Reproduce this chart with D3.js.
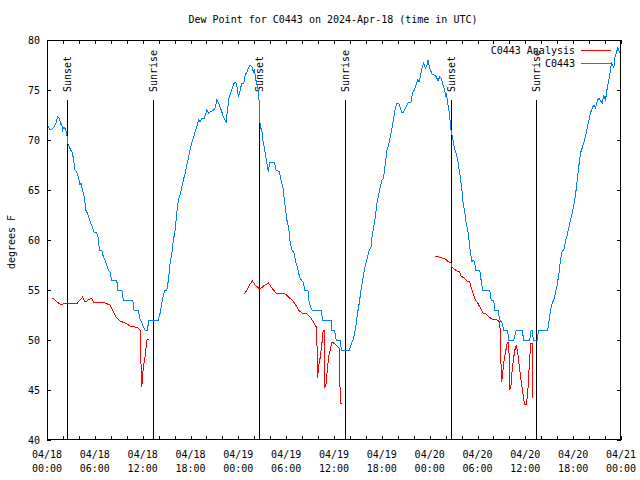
<!DOCTYPE html>
<html><head><meta charset="utf-8">
<script src="https://cdn.jsdelivr.net/npm/d3@7"></script>
<style>
body{margin:0;background:#fff;}
svg text{font-family:"DejaVu Sans Mono",monospace;font-size:10px;fill:#000;}
</style></head>
<body><svg id="c" width="640" height="480"></svg>
<script>
// hours since 2024-04-18 00:00 UTC
const obsHours = [0.16,0.38,0.79,1.09,1.34,1.51,1.63,1.76,1.80,1.97,2.13,2.30,2.47,2.60,2.80,2.98,3.18,3.30,3.52,3.73,3.93,4.14,4.27,4.43,4.68,4.86,5.06,5.27,5.49,5.69,5.90,6.24,6.44,6.57,6.87,7.07,7.28,7.50,7.70,7.91,8.12,8.75,8.88,9.38,9.58,10.76,10.92,11.46,11.68,11.89,12.09,12.30,12.59,12.77,13.97,14.19,14.40,14.60,14.81,15.03,15.23,15.44,15.66,15.86,16.07,16.28,16.48,16.70,16.91,17.11,17.33,17.54,17.74,17.95,18.17,18.37,18.58,18.79,19.00,19.21,19.42,19.75,20.05,20.25,20.46,20.88,21.09,21.31,21.51,21.72,21.93,22.13,22.35,22.47,22.64,22.85,23.10,23.26,23.48,23.69,23.85,24.02,24.23,24.44,24.70,24.86,25.07,25.27,25.49,25.70,25.90,26.03,26.20,26.40,26.53,26.65,26.74,26.95,27.03,27.24,27.45,27.66,27.78,27.91,28.54,28.71,29.17,29.34,29.59,29.88,30.09,30.30,30.51,30.72,31.01,31.22,31.43,31.68,31.89,32.18,32.30,32.73,32.89,33.23,34.40,34.56,35.62,35.74,36.07,36.28,36.82,36.91,37.95,38.13,38.38,38.54,38.76,38.96,39.17,39.39,39.59,39.80,40.01,40.21,40.43,40.64,40.77,40.97,41.18,41.39,41.59,41.81,42.02,42.22,42.44,42.65,42.85,43.06,43.28,43.48,43.69,43.91,44.11,44.32,44.53,44.73,44.95,45.16,45.36,45.66,45.86,46.08,46.29,46.49,46.67,46.83,47.04,47.25,47.46,47.67,47.80,47.92,48.09,48.30,48.59,48.84,49.05,49.25,49.47,49.68,49.88,50.01,50.09,50.26,50.47,50.68,50.88,51.10,51.31,51.51,51.64,51.85,51.98,52.07,52.19,52.36,52.48,52.61,52.77,52.90,53.02,53.20,53.32,53.45,53.65,53.74,54.28,54.45,54.65,55.53,55.71,56.03,56.16,56.58,56.79,57.09,57.29,57.79,57.88,58.54,58.85,59.60,59.80,60.55,60.73,60.93,60.98,61.48,61.68,62.81,62.94,63.15,63.37,63.57,63.78,63.99,64.19,64.41,64.62,64.82,65.04,65.25,65.45,65.66,65.88,66.08,66.29,66.50,66.71,66.92,67.13,67.33,67.55,67.76,67.96,68.17,68.39,68.59,68.80,69.01,69.22,69.43,69.64,69.84,70.06,70.27,70.47,70.68,70.81,70.97,71.10,71.23,71.40,71.60,71.73,71.85];
const obsValues = [71.4,71.0,71.2,71.6,72.3,72.2,71.9,71.5,71.7,71.0,71.3,71.1,70.7,69.7,69.3,69.0,68.7,68.2,67.0,66.8,66.3,65.5,65.7,65.0,64.3,63.0,62.7,62.2,61.7,61.3,60.8,60.7,60.2,59.0,59.0,58.3,58.0,57.5,57.0,56.8,56.0,56.0,55.0,55.0,54.0,54.0,53.0,53.0,52.0,51.8,51.3,51.0,51.0,52.0,52.0,52.7,53.7,54.5,55.0,55.0,56.0,57.7,58.7,60.0,61.0,62.7,64.0,64.5,65.3,66.0,66.7,67.5,68.2,69.0,69.8,70.2,70.8,71.3,72.0,71.8,72.2,72.2,73.0,72.7,72.8,73.0,73.2,74.0,73.7,73.3,72.8,72.3,72.0,71.8,73.0,74.3,74.8,75.3,75.7,75.8,75.2,74.3,75.0,75.7,75.7,76.5,76.8,77.2,77.5,77.3,76.8,77.0,76.0,75.3,75.0,73.2,71.3,71.0,70.2,69.3,68.3,67.3,66.8,67.8,67.8,67.0,66.8,66.0,65.3,63.3,62.0,61.3,59.7,59.0,58.7,57.7,57.2,56.3,56.0,55.7,55.0,55.0,53.7,53.0,53.0,52.0,52.0,51.0,51.0,50.0,50.0,49.0,49.0,49.5,50.0,50.5,51.5,52.7,53.7,55.0,56.0,57.0,57.7,58.3,59.0,59.3,60.3,61.3,62.3,63.7,64.5,65.3,66.0,66.2,67.7,69.0,69.5,70.3,71.2,72.2,73.2,73.7,73.7,73.2,72.7,72.8,73.2,73.5,73.8,73.8,74.7,75.0,75.5,76.0,75.8,76.3,77.2,77.7,77.2,77.5,78.0,77.5,77.0,76.6,76.5,76.3,75.9,76.3,76.2,75.5,75.0,74.5,74.7,73.7,72.7,71.0,70.2,69.2,68.7,68.0,67.3,66.3,65.3,64.8,63.7,63.0,62.3,61.5,61.0,60.3,59.3,58.3,57.8,58.0,57.8,57.0,57.0,56.0,55.0,55.0,54.0,54.0,53.0,53.0,52.0,51.7,51.0,51.0,50.0,50.0,51.0,51.0,50.0,50.0,51.0,51.0,50.0,50.0,51.0,51.0,51.7,52.9,53.7,54.0,54.7,55.5,56.5,58.0,58.9,59.0,59.9,60.5,61.2,62.0,62.7,63.5,64.5,65.9,67.4,68.7,69.2,69.7,70.4,71.2,71.9,72.7,73.2,73.5,73.2,73.9,74.2,73.9,73.7,74.4,74.0,75.2,76.0,77.0,77.7,77.5,77.2,78.2,78.7,79.2,78.9,78.7];

// Analysis: null marks a gap
const anaHours = [0.59,0.79,1.22,1.63,2.05,2.47,3.80,4.14,4.48,4.77,5.19,5.61,5.81,6.87,7.28,7.91,8.32,8.75,9.17,9.79,10.21,10.42,11.05,11.46,11.68,11.76,11.89,11.97,12.09,12.30,12.52,12.84,
  18.0,
  24.77,25.07,25.49,25.78,26.11,26.53,26.74,27.16,27.78,28.21,28.71,29.25,29.88,30.30,30.72,31.14,31.55,31.98,32.61,33.02,33.43,33.77,33.90,33.94,34.06,34.28,34.49,34.65,34.78,34.82,34.99,35.12,35.32,35.53,35.74,35.95,36.37,36.66,36.70,36.82,37.00,
  42.0,
  48.71,49.13,49.55,49.97,50.38,50.68,50.81,51.01,51.44,51.77,51.94,52.27,52.69,53.02,53.20,53.45,53.74,54.02,54.36,54.70,54.99,55.41,55.83,56.46,56.79,56.87,56.96,57.04,57.13,57.29,57.50,57.72,57.92,58.01,58.05,58.18,58.35,58.55,58.76,58.89,59.05,59.30,59.51,59.72,59.89,60.14,60.30,60.48,60.68,60.89,60.93];
const anaValues = [54.2,54.2,53.8,53.6,53.6,53.7,53.7,54.0,54.3,53.8,54.0,54.2,53.8,53.8,53.7,53.5,52.8,52.2,51.9,51.7,51.5,51.4,51.3,51.2,51.0,48.3,45.3,46.3,47.3,48.3,50.0,50.1,
  null,
  54.6,55.0,55.6,55.9,55.5,55.2,55.1,55.4,55.7,55.2,54.7,54.7,54.6,54.3,54.0,53.6,53.0,52.7,52.6,52.3,51.8,51.3,48.8,46.2,47.3,48.3,49.7,51.0,51.0,45.3,45.5,46.7,48.3,49.0,49.8,49.7,49.4,49.2,46.5,43.7,43.7,
  null,
  58.4,58.3,58.2,58.1,57.8,57.7,57.3,57.1,56.9,56.8,56.4,56.2,55.9,55.8,55.3,54.7,54.0,53.7,53.2,52.7,52.7,52.3,52.1,52.0,51.8,50.3,47.3,45.8,46.5,47.7,48.7,49.7,49.8,46.8,45.0,45.3,47.0,48.3,49.3,49.4,48.7,47.0,45.7,44.5,43.6,43.6,44.7,47.3,49.7,49.7,44.2];

const sunEventHours = [2.60,13.35,26.65,37.45,50.76,61.43];
const sunEventLabels = ["Sunset","Sunrise","Sunset","Sunrise","Sunset","Sunrise"];
const yTicks = [40,45,50,55,60,65,70,75,80];
const seriesNames = ["C0443 Analysis","C0443"];
const seriesColors = ["#ff0000","#0080ff"];
const titleText = "Dew Point for C0443 on 2024-Apr-18 (time in UTC)";
const yLabel = "degrees F";

const t0 = Date.UTC(2024,3,18);
const toDate = h => new Date(t0 + h*3600000);
const L=47, R=621, T=40, B=440;
const svg = d3.select("#c");
const x = d3.scaleUtc().domain([toDate(0), toDate(72)]).range([L, R]);
const y = d3.scaleLinear().domain([40,80]).range([B, T]);

const g = svg.append("g");

const obs = obsHours.map((h,i)=>({t:toDate(h), v:obsValues[i]}));
const ana = anaHours.map((h,i)=>({t:toDate(h), v:anaValues[i]}));
const line = d3.line().defined(d=>d.v!=null).x(d=>x(d.t)).y(d=>y(d.v));

// sun event lines
sunEventHours.forEach((h,i)=>{
  const xx = Math.floor(x(toDate(h)))+0.5;
  g.append("line").attr("x1",xx).attr("x2",xx).attr("y1",y(74)).attr("y2",B)
    .attr("stroke","#000").attr("stroke-width",1).attr("shape-rendering","crispEdges");
  g.append("text").attr("transform",`translate(${xx+3.5},92) rotate(-90)`)
    .attr("text-anchor","start").text(sunEventLabels[i]);
});

g.append("path").datum(ana).attr("d",line).attr("fill","none")
  .attr("stroke",seriesColors[0]).attr("stroke-width",1).attr("shape-rendering","crispEdges");
g.append("path").datum(obs).attr("d",line).attr("fill","none")
  .attr("stroke",seriesColors[1]).attr("stroke-width",1).attr("shape-rendering","crispEdges");

// axes
const xTickVals = d3.utcHour.every(2).range(toDate(0), toDate(72.01));
const fmtD = d3.utcFormat("%m/%d"), fmtH = d3.utcFormat("%H:%M");
const xb = svg.append("g").attr("transform",`translate(0,${B})`)
  .call(d3.axisBottom(x).tickValues(xTickVals).tickSizeInner(-4).tickSizeOuter(0).tickFormat(""));
const xt = svg.append("g").attr("transform",`translate(0,${T})`)
  .call(d3.axisTop(x).tickValues(xTickVals).tickSizeInner(-4).tickSizeOuter(0).tickFormat(""));
const yl = svg.append("g").attr("transform",`translate(${L},0)`)
  .call(d3.axisLeft(y).tickValues(yTicks).tickSizeInner(-4).tickSizeOuter(0).tickPadding(8).tickFormat(d3.format("d")));
const yr = svg.append("g").attr("transform",`translate(${R},0)`)
  .call(d3.axisRight(y).tickValues(yTicks).tickSizeInner(-4).tickSizeOuter(0).tickFormat(""));
[xb,xt,yl,yr].forEach(a=>{
  a.select(".domain").remove();
  a.selectAll("line").attr("stroke","#000").attr("shape-rendering","crispEdges");
  a.selectAll("text").attr("font-family","DejaVu Sans Mono").attr("font-size",10).attr("fill","#000");
});
yl.selectAll("text").attr("x",-7);

// x tick labels two lines every 6h
const lbl = svg.append("g");
d3.utcHour.every(6).range(toDate(0), toDate(72.01)).forEach(d=>{
  const t = lbl.append("text").attr("x",x(d)).attr("text-anchor","middle");
  t.append("tspan").attr("x",x(d)).attr("y",458).text(fmtD(d));
  t.append("tspan").attr("x",x(d)).attr("y",472).text(fmtH(d));
});

// border
svg.append("rect").attr("x",L+0.5).attr("y",T+0.5).attr("width",R-L-1).attr("height",B-T-1)
  .attr("fill","none").attr("stroke","#000").attr("shape-rendering","crispEdges");

// title
svg.append("text").attr("x",333).attr("y",23).attr("text-anchor","middle").text(titleText);
// y label
svg.append("text").attr("transform","translate(15,242) rotate(-90)").attr("text-anchor","middle").text(yLabel);

// legend
seriesNames.forEach((n,i)=>{
  const yy = 50 + i*13;
  svg.append("text").attr("x",575).attr("y",yy+3.5).attr("text-anchor","end").text(n);
  svg.append("line").attr("x1",581).attr("x2",611).attr("y1",yy+0.5).attr("y2",yy+0.5)
    .attr("stroke",seriesColors[i]).attr("stroke-width",1).attr("shape-rendering","crispEdges");
});
</script></body></html>
